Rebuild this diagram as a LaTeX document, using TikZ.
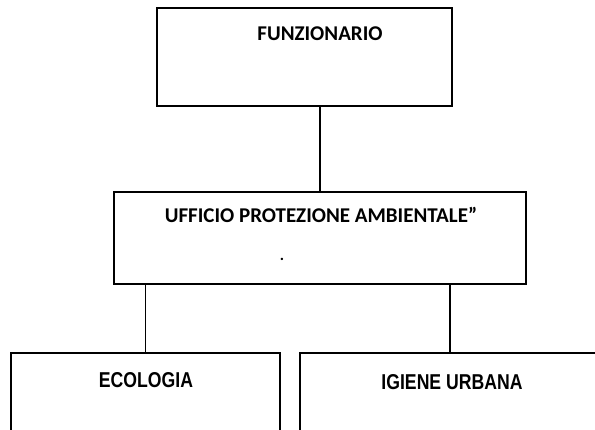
\documentclass[tikz,border=0pt]{standalone}
\usepackage{fontspec}
\setmainfont{Carlito}
\newfontfamily\narrowfont[FakeStretch=0.82]{Liberation Sans}
\begin{document}
\begin{tikzpicture}[x=1pt,y=-1pt,
    box/.style={draw,line width=1.7pt,inner sep=0pt},
    link/.style={line width=1.2pt},
    headtext/.style={anchor=base,font=\bfseries\fontsize{21}{24}\selectfont},
    subtext/.style={anchor=base,font=\narrowfont\bfseries\fontsize{21.5}{24}\selectfont}]
    \useasboundingbox (0,0) rectangle (595,430);
    \clip (0,0) rectangle (595,430);
    \node[box,minimum width=295pt,minimum height=98pt] (funz) at (304.5,57) {};
    \node[box,minimum width=412pt,minimum height=92pt] (ufficio) at (320,238) {};
    \node[box,minimum width=269pt,minimum height=110pt] (ecologia) at (145.5,408) {};
    \node[box,minimum width=300pt,minimum height=110pt] (igiene) at (450,408) {};
    \node[headtext] (funztext) at (320,40.7) {FUNZIONARIO};
    \node[headtext] (uffiociotext) at (321,223) {UFFICIO PROTEZIONE AMBIENTALE”};
    \node[headtext,font=\bfseries\fontsize{16}{18}\selectfont] (punto) at (282,261) {.};
    \node[subtext] (ecologiatext) at (146,388) {ECOLOGIA};
    \node[subtext] (igienetext) at (452,390) {IGIENE URBANA};
    \draw[link] (ufficio.north |- funz.south) -- (ufficio.north);
    \draw[link] (ecologia.north |- ufficio.south) -- (ecologia.north);
    \draw[link] (igiene.north |- ufficio.south) -- (igiene.north);
\end{tikzpicture}
\end{document}
